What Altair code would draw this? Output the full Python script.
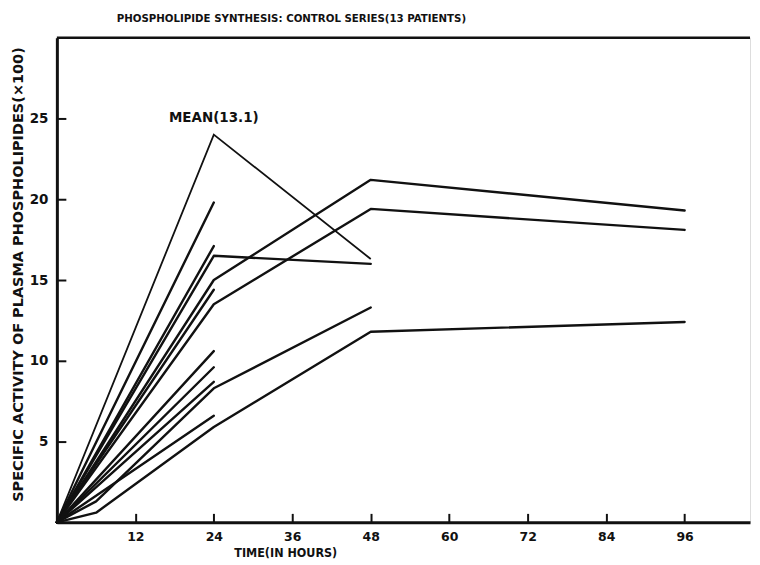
import altair as alt
import pandas as pd

# ---- data ----
patients = ["A", "B", "C", "D", "E", "F", "G", "H", "I", "J", "K", "L"]
patient_hours = [
    [0, 24],
    [0, 24],
    [0, 24, 48],
    [0, 24, 48, 96],
    [0, 24],
    [0, 24, 48, 96],
    [0, 24],
    [0, 24],
    [0, 24],
    [0, 6, 24, 48],
    [0, 24],
    [0, 6, 24, 48, 96],
]
patient_values = [
    [0, 19.8],
    [0, 17.1],
    [0, 16.5, 16.0],
    [0, 15.0, 21.2, 19.3],
    [0, 14.4],
    [0, 13.5, 19.4, 18.1],
    [0, 10.6],
    [0, 9.6],
    [0, 8.7],
    [0, 1.3, 8.3, 13.3],
    [0, 6.6],
    [0, 0.6, 5.9, 11.8, 12.4],
]
mean_hours = [0, 24, 48]
mean_values = [0, 24.0, 16.3]
mean_label = ["MEAN(13.1)"]
mean_label_pos = [24, 25.0]

x_ticks = [12, 24, 36, 48, 60, 72, 84, 96]
y_ticks = [5, 10, 15, 20, 25]
x_domain = [0, 106]
y_domain = [0, 30]

title_text = "PHOSPHOLIPIDE SYNTHESIS: CONTROL SERIES(13 PATIENTS)"
x_title = "TIME(IN HOURS)"
y_title = "SPECIFIC ACTIVITY OF PLASMA PHOSPHOLIPIDES(\u00d7100)"

rows = []
for pid, hs, vs in zip(patients, patient_hours, patient_values):
    for i, (h, v) in enumerate(zip(hs, vs)):
        rows.append({"id": pid, "hour": h, "value": v, "order": i})
df = pd.DataFrame(rows)
df_mean = pd.DataFrame({"id": "mean", "hour": mean_hours, "value": mean_values,
                        "order": list(range(len(mean_hours)))})
df_label = pd.DataFrame({"hour": [mean_label_pos[0]], "value": [mean_label_pos[1]],
                         "label": mean_label})

FONT = "DejaVu Sans"
FONT_C = "DejaVu Sans Condensed"
INK = "#111111"

x_scale = alt.Scale(domain=x_domain, nice=False, zero=True)
y_scale = alt.Scale(domain=y_domain, nice=False)

x_axis = alt.Axis(values=x_ticks, title=x_title, tickSize=alt.ExprRef("-9"),
                  labelPadding=17, tickWidth=2, tickColor=INK, domainColor=INK,
                  domainWidth=3, grid=False, labelFont=FONT, labelFontSize=12.5,
                  labelFontWeight="bold", labelColor=INK, titleFont=FONT_C,
                  titleFontSize=12.5, titleFontWeight="bold", titleColor=INK,
                  titleX=229, titlePadding=4, labelFlush=False)
y_axis = alt.Axis(values=y_ticks, title=y_title, tickSize=alt.ExprRef("-9"),
                  labelPadding=18, tickWidth=2, tickColor=INK, domainColor=INK,
                  domainWidth=3, grid=False, labelFont=FONT, labelFontSize=13.5,
                  labelFontWeight="bold", labelColor=INK, titleFont=FONT,
                  titleFontSize=14.5, titleFontWeight="bold", titleColor=INK,
                  titlePadding=9, minExtent=22, maxExtent=22, titleLimit=520,
                  titleY=237)

lines = alt.Chart(df).mark_line(color=INK, strokeWidth=2.4, strokeCap="round",
                                strokeJoin="round").encode(
    x=alt.X("hour:Q", scale=x_scale, axis=x_axis),
    y=alt.Y("value:Q", scale=y_scale, axis=y_axis),
    detail="id:N",
    order="order:Q",
)

mean_line = alt.Chart(df_mean).mark_line(color=INK, strokeWidth=1.8,
                                         strokeJoin="miter").encode(
    x=alt.X("hour:Q", scale=x_scale),
    y=alt.Y("value:Q", scale=y_scale),
    order="order:Q",
)

label = alt.Chart(df_label).mark_text(font=FONT, fontSize=13.5, fontWeight="bold",
                                      color=INK, baseline="middle").encode(
    x=alt.X("hour:Q", scale=x_scale),
    y=alt.Y("value:Q", scale=y_scale),
    text="label:N",
)

top_frame = alt.Chart(pd.DataFrame({"v": [y_domain[1]]})).mark_rule(
    color=INK, strokeWidth=2.5).encode(y=alt.Y("v:Q", scale=y_scale))

chart = alt.layer(lines, mean_line, label, top_frame).properties(
    width=695, height=486,
    padding={"left": 3, "top": 4, "right": 0, "bottom": 2},
    title=alt.TitleParams(title_text, anchor="start", dx=106, font=FONT_C,
                          fontSize=11.4, fontWeight="bold", color=INK, offset=12),
).configure_view(stroke=None).configure(background="white")

chart.save("out.html", embed_options={"renderer": "svg", "actions": False})
